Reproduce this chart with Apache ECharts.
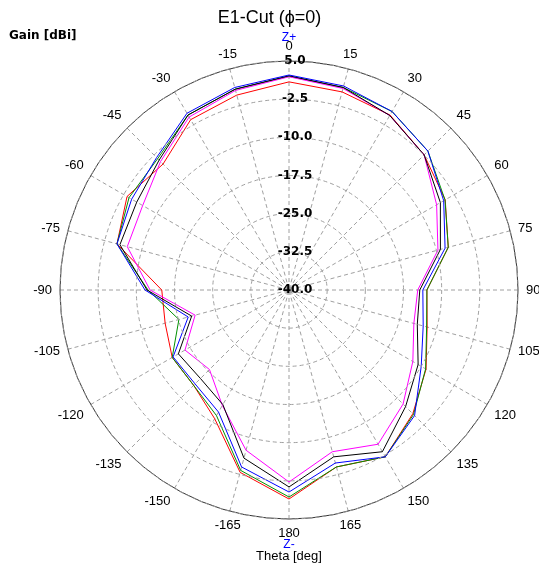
<!DOCTYPE html>
<html><head><meta charset="utf-8">
<script src="https://cdn.jsdelivr.net/npm/echarts@6/dist/echarts.min.js"></script>
<style>html,body{margin:0;padding:0;background:#fff}#c{width:539px;height:567px}</style>
</head><body><div id="c"></div>
<script>
const theta = [-180,-165,-150,-135,-120,-105,-90,-75,-60,-45,-30,-15,0,15,30,45,60,75,90,105,120,135,150,165,180];
const red     = [1.07,-2.9,-10.8,-13.5,-13.5,-14.8,-15.0,-5.0,-3.25,-5.0,-1.35,-0.35,0.9,0.3,-0.3,-2.45,-4.55,-7.6,-12.9,-11.9,-8.9,-5.6,-2.15,-4.0,1.07];
const green   = [0.68,-3.3,-11.5,-13.5,-13.5,-17.6,-12.3,-5.0,-3.7,-3.5,-0.3,0.85,2.0,1.2,0.5,-1.4,-4.6,-7.6,-12.9,-12.0,-9.0,-5.4,-2.15,-4.0,0.68];
const blue    = [-0.3,-4.0,-12.3,-13.9,-13.7,-19.5,-11.7,-5.0,-4.3,-3.2,0.1,1.2,2.25,1.5,0.5,-1.4,-4.9,-8.25,-13.7,-12.7,-10.0,-5.1,-2.15,-4.8,-0.3];
const black   = [-1.3,-5.8,-14.0,-15.4,-14.9,-20.2,-12.1,-5.6,-5.45,-3.9,-0.3,0.85,2.1,1.2,-0.4,-2.45,-5.65,-9.2,-14.3,-13.9,-10.7,-7.6,-3.3,-6.06,-1.3];
const magenta = [-2.27,-7.4,-13.8,-17.9,-16.4,-20.9,-12.7,-7.1,-6.8,-4.3,-0.75,0.6,1.9,1.0,-0.4,-2.45,-6.5,-9.7,-14.7,-14.6,-11.9,-8.3,-5.0,-7.1,-2.27];

const R_MIN = -40;  // centre of the plot, dB
const R_MAX = 5;
const R_STEP = 7.5;

function toPolar(vals){
  return vals.map((v,i)=>{ const t = theta[i]; return [v - R_MIN, t < 0 ? t + 360 : t]; });
}
const seriesDefs = [
  {name:'red', data:red, color:'#ff0000'},
  {name:'green', data:green, color:'#009000'},
  {name:'magenta', data:magenta, color:'#ff00ff'},
  {name:'black', data:black, color:'#000000'},
  {name:'blue', data:blue, color:'#0000ff'}
];
const chart = echarts.init(document.getElementById('c'), null, {renderer:'canvas'});
chart.setOption({
  animation:false,
  backgroundColor:'#fff',
  title:{text:'E1-Cut (\u03D5=0)', left:'center', top:4, textStyle:{fontFamily:'Liberation Sans', fontSize:18, fontWeight:'normal', color:'#000'}},
  polar:{center:[289,290], radius:229},
  angleAxis:{
    type:'value', min:0, max:360, interval:15, startAngle:90, clockwise:true,
    axisLine:{show:true, lineStyle:{color:'#333', width:1}},
    axisTick:{show:false},
    axisLabel:{margin:8, color:'#000', fontFamily:'Liberation Sans', fontSize:13,
      formatter:v=> String(v > 180 ? v - 360 : (v===360?0:v))},
    splitLine:{show:true, lineStyle:{color:'#a0a0a0', type:[4,3], width:1}}
  },
  radiusAxis:{
    type:'value', min:0, max:R_MAX - R_MIN, interval:R_STEP,
    axisLine:{show:false}, axisTick:{show:false},
    axisLabel:{show:true, color:'#000', fontFamily:'DejaVu Sans', fontWeight:'bold', fontSize:12,
      align:'center', verticalAlign:'middle', margin:-6,
      formatter:v=> (v + R_MIN).toFixed(1)},
    splitLine:{show:true, lineStyle:{color:'#a0a0a0', type:[4,3], width:1}},
    z:10
  },
  graphic:[
    {type:'text', left:9, top:30, style:{text:'Gain [dBi]', font:'bold 12px "DejaVu Sans"', fill:'#000'}},
    {type:'text', x:289, y:38, style:{text:'Z+', font:'12px "Liberation Sans"', fill:'#0000ff', textAlign:'center', textVerticalAlign:'middle'}},
    {type:'text', x:289, y:545, style:{text:'Z-', font:'12px "Liberation Sans"', fill:'#0000ff', textAlign:'center', textVerticalAlign:'middle'}},
    {type:'text', x:289, y:556, style:{text:'Theta [deg]', font:'13px "Liberation Sans"', fill:'#000', textAlign:'center', textVerticalAlign:'middle'}}
  ],
  series: seriesDefs.map(s=>({
    type:'line', coordinateSystem:'polar', name:s.name, data:toPolar(s.data),
    symbol:'none', lineStyle:{color:s.color, width:1}, itemStyle:{color:s.color}, z:2
  }))
});
</script>
</body></html>
